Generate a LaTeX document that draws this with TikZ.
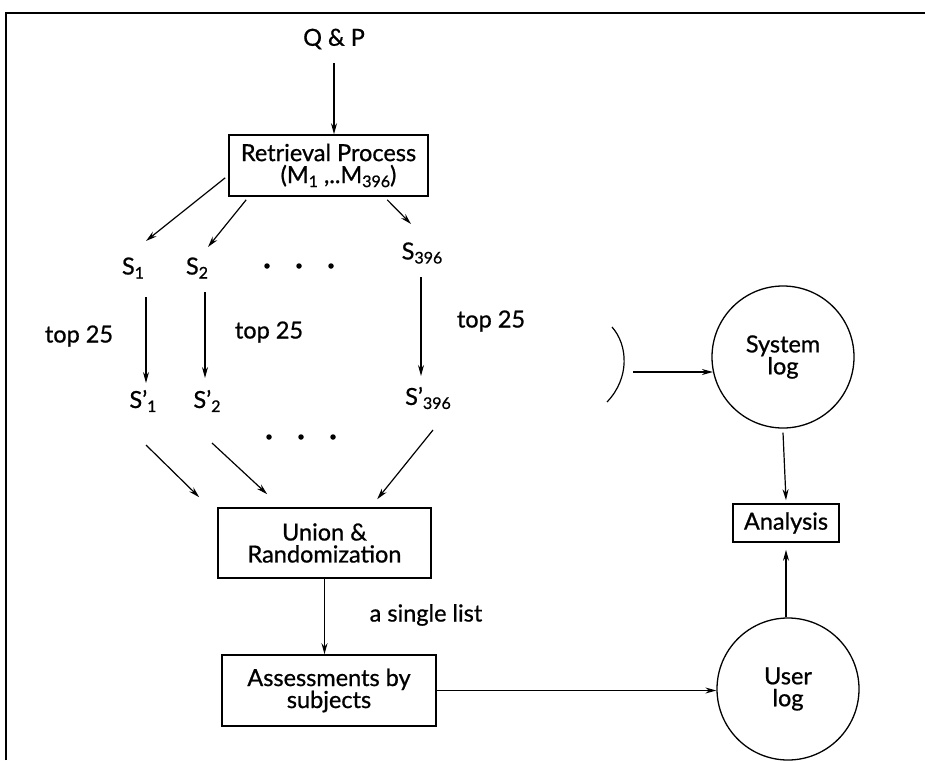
\documentclass[tikz,border=0pt]{standalone}
\usepackage{fontspec}
\setmainfont{Lato}[FakeBold=0.8]
\usetikzlibrary{arrows.meta,calc}
\newcommand\sbs[1]{\raisebox{-4pt}{\fontsize{16}{16}\selectfont #1}}
\begin{document}
\begin{tikzpicture}[x=1pt,y=-1pt,
  lbl/.style={font=\fontsize{23.5}{22}\selectfont, inner sep=0pt, align=center},
  box/.style={lbl, draw, line width=1.6pt},
  arr/.style={-{Stealth[length=11pt,width=6pt]}, line width=1.2pt},
  logc/.style={lbl, draw, circle, line width=1.3pt, minimum size=142pt},
  dot/.style={circle, fill, inner sep=0pt, minimum size=5.5pt}
]
\useasboundingbox (0,0) rectangle (925,760);
\draw[line width=2.8pt] (6,760) -- (6,13) -- (925,13);

\node[lbl] (qp) at (334,39) {Q \& P};
\node[box, minimum width=199pt, minimum height=61pt] (ret) at (328.5,165.5)
  {Retrieval Process\\\hspace*{20pt}(M\sbs{1} ,..M\sbs{396})};

\node[lbl] (s1) at (133,268) {S\sbs{1}};
\node[lbl] (s2) at (197,268) {S\sbs{2}};
\node[lbl] (s396) at (422,253) {S\sbs{396}};
\node[dot] (d1) at (267,266) {};
\node[dot] (d2) at (299,266) {};
\node[dot] (d3) at (331,266) {};

\node[lbl] (t1) at (79,336) {top 25};
\node[lbl] (t2) at (269,332) {top 25};
\node[lbl] (t3) at (491,321) {top 25};

\node[lbl] (sp1) at (143,401) {S'\sbs{1}};
\node[lbl] (sp2) at (207,401) {S'\sbs{2}};
\node[lbl] (sp396) at (428,398) {S'\sbs{396}};
\node[dot] (e1) at (269,437) {};
\node[dot] (e2) at (301,437) {};
\node[dot] (e3) at (333,437) {};

\node[box, minimum width=213pt, minimum height=70pt] (union) at (324.5,543)
  {Union \&\\Randomization};
\node[lbl] (single) at (426,615) {a single list};
\node[box, minimum width=214pt, minimum height=71pt] (assess) at (329,690.5)
  {Assessments by\\subjects};

\node[logc] (syslog) at (783,357) {System\\log};
\node[box, minimum width=106pt, minimum height=38pt] (analysis) at (786,523) {Analysis};
\node[logc] (userlog) at (788,689) {User\\log};

\coordinate (src) at (633,372);
\draw[line width=1.2pt] (612,327) .. controls (628,345) and (630,378) .. (607,402);

% connectors
\draw[arr] ($(qp)+(0,24)$) -- (qp |- ret.north);
\draw[arr] ($(ret.south west)+(-3,-19)$) -- ($(s1)+(13,-27)$);
\draw[arr] ($(ret.south west)+(18,3)$) -- ($(s2)+(11,-21)$);
\draw[arr] ($(ret.south west)+(159,3)$) -- ($(s396)+(-11,-29)$);

\draw[arr] ($(s1)+(13,29)$) -- ($(sp1)+(3,-18)$);
\draw[arr] ($(s2)+(8,24)$) -- ($(sp2)+(-2,-23)$);
\draw[arr] ($(s396)+(-1,24)$) -- ($(sp396)+(-7,-22)$);

\draw[arr] ($(sp1)+(3,44)$) -- ($(union.north west)+(-18,-10)$);
\draw[arr] ($(sp2)+(5,42)$) -- ($(union.north west)+(50,-13)$);
\draw[arr] ($(sp396)+(5,32)$) -- ($(union.north west)+(160,-8)$);

\draw[arr] (union.south) -- (union.south |- assess.north);
\draw[arr] (assess.east) -- (assess.east -| userlog.west);

\draw[arr] (src) -- (src -| syslog.192);
\draw[arr] ([yshift=-4pt]syslog.south) -- ([yshift=3pt]analysis.north);
\draw[arr] (analysis.south |- userlog.north) -- ([yshift=-7pt]analysis.south);
\end{tikzpicture}
\end{document}
